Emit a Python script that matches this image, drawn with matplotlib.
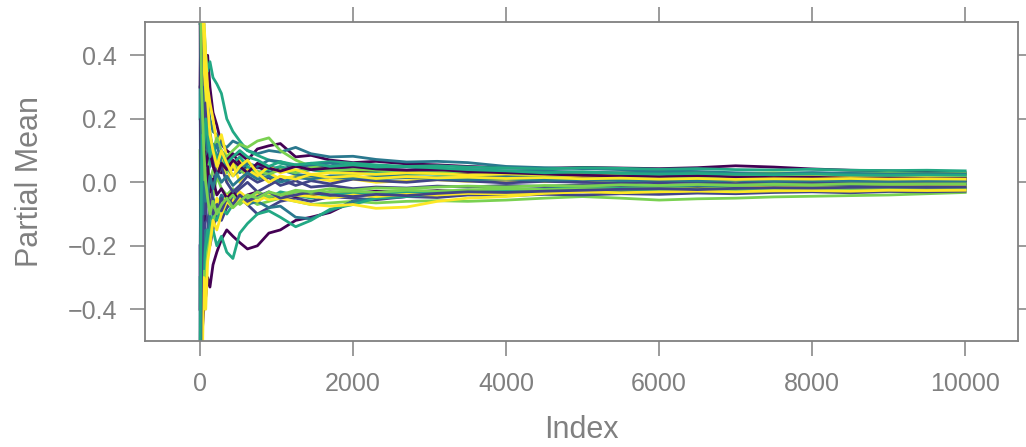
import numpy as np
import matplotlib
matplotlib.use("Agg")
import matplotlib.pyplot as plt

# Chỉ số tại các điểm đọc giá trị trung bình riêng phần
index_points = [1, 10, 20, 35, 50, 75, 100, 130, 170, 220, 280, 350, 430, 520, 620,
                750, 900, 1050, 1250, 1450, 1700, 2000, 2300, 2700, 3100, 3500, 4000,
                4500, 5000, 5500, 6000, 6500, 7000, 7500, 8000, 8500, 9000, 9500, 10000]

# Bảng màu viridis(6)
palette = ["#440154", "#414487", "#2A788E", "#22A884", "#7AD151", "#FDE725"]

# Các chuỗi trung bình riêng phần (tên theo màu: P, B, T, G, L, Y)
P1 = [0.95, 0.62, 0.45, 0.41, 0.33, 0.38, 0.40, 0.30, 0.22, 0.18, 0.12, 0.10, 0.085, 0.09, 0.07,
      0.105, 0.115, 0.122, 0.08, 0.085, 0.07, 0.062, 0.066, 0.058, 0.055, 0.05, 0.046,
      0.044, 0.047, 0.045, 0.043, 0.046, 0.052, 0.048, 0.042, 0.038, 0.036, 0.033, 0.030]
B1 = [0.8, 0.3, 0.05, 0.15, -0.1, -0.2, -0.15, -0.05, 0.0, 0.05, 0.03, 0.06, 0.04, 0.07, 0.06,
      0.045, 0.05, 0.04, 0.055, 0.05, 0.045, 0.04, 0.038, 0.035, 0.03, 0.032, 0.028,
      0.025, 0.028, 0.024, 0.022, 0.025, 0.02, 0.022, 0.019, 0.021, 0.018, 0.02, 0.018]
T1 = [1.1, 0.55, 0.3, 0.35, 0.28, 0.22, 0.25, 0.2, 0.16, 0.15, 0.12, 0.11, 0.13, 0.12, 0.1,
      0.09, 0.1, 0.095, 0.11, 0.09, 0.08, 0.082, 0.072, 0.064, 0.066, 0.062, 0.05,
      0.046, 0.043, 0.04, 0.036, 0.034, 0.03, 0.028, 0.03, 0.027, 0.024, 0.025, 0.022]
G1 = [0.5, 0.9, 0.6, 0.45, 0.5, 0.4, 0.35, 0.38, 0.33, 0.31, 0.28, 0.2, 0.16, 0.13, 0.1,
      0.085, 0.07, 0.06, 0.05, 0.06, 0.065, 0.06, 0.055, 0.05, 0.052, 0.048, 0.045,
      0.042, 0.046, 0.044, 0.041, 0.043, 0.04, 0.039, 0.041, 0.038, 0.037, 0.038, 0.036]
L1 = [-0.6, -0.2, 0.1, 0.05, -0.1, -0.05, 0.0, -0.08, -0.05, 0.02, -0.02, -0.04, -0.02, -0.06, -0.05,
      -0.07, -0.06, -0.05, -0.06, -0.07, -0.065, -0.06, -0.065, -0.06, -0.058, -0.06, -0.056,
      -0.05, -0.045, -0.05, -0.056, -0.052, -0.05, -0.046, -0.044, -0.042, -0.04, -0.036, -0.032]
Y1 = [2.0, 1.1, 0.8, 0.6, 0.52, 0.4, 0.3, 0.25, 0.2, 0.12, 0.15, 0.08, 0.05, 0.07, 0.04,
      0.02, 0.03, 0.01, 0.02, 0.015, 0.005, 0.01, 0.0, 0.005, 0.008, 0.003, 0.006,
      0.002, 0.004, 0.007, 0.003, 0.005, 0.002, 0.004, 0.006, 0.003, 0.005, 0.004, 0.004]

P2 = [-1.2, -0.75, -0.52, -0.45, -0.40, -0.36, -0.30, -0.33, -0.26, -0.22, -0.18, -0.15, -0.17, -0.19, -0.21,
      -0.20, -0.16, -0.15, -0.12, -0.11, -0.095, -0.06, -0.05, -0.045, -0.035, -0.03, -0.028,
      -0.022, -0.02, -0.018, -0.022, -0.02, -0.015, -0.012, -0.014, -0.012, -0.01, -0.011, -0.010]
B2 = [-0.9, -0.6, -0.2, -0.3, -0.15, -0.1, -0.12, -0.2, -0.15, -0.1, -0.12, -0.08, -0.06, -0.04, -0.07,
      -0.1, -0.08, -0.06, -0.05, -0.06, -0.045, -0.05, -0.055, -0.045, -0.048, -0.04, -0.042,
      -0.038, -0.04, -0.036, -0.038, -0.034, -0.036, -0.032, -0.03, -0.033, -0.029, -0.03, -0.028]
T2 = [-1.6, -0.7, -0.43, -0.3, -0.25, -0.15, -0.18, -0.1, -0.05, -0.08, -0.04, -0.06, -0.03, -0.05, -0.07,
      -0.06, -0.08, -0.075, -0.11, -0.115, -0.09, -0.06, -0.05, -0.04, -0.035, -0.03, -0.028,
      -0.022, -0.02, -0.018, -0.02, -0.017, -0.016, -0.018, -0.015, -0.016, -0.014, -0.015, -0.015]
G2 = [-1.0, -0.5, -0.3, -0.35, -0.25, -0.2, -0.15, -0.18, -0.15, -0.2, -0.17, -0.22, -0.24, -0.16, -0.13,
      -0.1, -0.09, -0.11, -0.14, -0.12, -0.085, -0.07, -0.05, -0.045, -0.035, -0.03, -0.025,
      -0.02, -0.018, -0.015, -0.012, -0.01, -0.013, -0.01, -0.009, -0.011, -0.008, -0.009, -0.008]
L2 = [0.7, 0.2, 0.4, 0.25, 0.3, 0.2, 0.12, 0.16, 0.1, 0.14, 0.1, 0.08, 0.1, 0.12, 0.11,
      0.13, 0.14, 0.1, 0.07, 0.05, 0.04, 0.03, 0.035, 0.025, 0.03, 0.022, 0.018,
      0.02, 0.016, 0.014, 0.017, 0.013, 0.015, 0.012, 0.013, 0.011, 0.012, 0.013, 0.012]
Y2 = [1.4, 0.9, 0.5, 0.3, 0.2, 0.1, 0.05, -0.05, -0.1, -0.05, -0.08, -0.04, -0.06, -0.03, -0.05,
      -0.06, -0.04, -0.05, -0.06, -0.07, -0.075, -0.07, -0.082, -0.078, -0.06, -0.05, -0.045,
      -0.035, -0.03, -0.025, -0.022, -0.02, -0.018, -0.015, -0.016, -0.013, -0.014, -0.012, -0.012]

P3 = [0.6, -0.3, 0.1, 0.25, 0.05, -0.05, 0.02, 0.08, 0.12, 0.06, 0.03, 0.07, 0.09, 0.06, 0.04,
      0.05, 0.03, 0.045, 0.035, 0.04, 0.033, 0.03, 0.034, 0.028, 0.032, 0.025, 0.02,
      0.022, 0.015, 0.018, 0.012, 0.008, 0.01, 0.006, 0.009, 0.007, 0.005, 0.006, 0.005]
B3 = [-0.5, 0.4, 0.25, 0.1, 0.2, 0.12, 0.05, 0.0, -0.06, -0.1, -0.05, -0.08, -0.04, -0.02, 0.0,
      -0.03, -0.01, 0.01, -0.01, 0.005, -0.005, 0.01, 0.005, 0.0, 0.008, 0.004, -0.002,
      0.003, 0.0, -0.003, 0.002, 0.0, -0.004, 0.001, 0.002, -0.002, 0.0, 0.001, 0.000]
T3 = [0.3, -0.2, 0.2, 0.3, 0.2, 0.15, 0.1, 0.05, 0.12, 0.08, 0.1, 0.065, 0.05, 0.03, 0.045,
      0.02, 0.03, 0.04, 0.025, 0.02, 0.015, 0.012, 0.02, 0.018, 0.015, 0.012, 0.016,
      0.013, 0.01, 0.014, 0.011, 0.012, 0.009, 0.011, 0.012, 0.01, 0.009, 0.011, 0.010]
G3 = [0.2, 0.4, 0.05, -0.1, 0.0, 0.08, 0.02, 0.06, 0.1, 0.05, 0.08, 0.04, 0.06, 0.08, 0.05,
      0.03, 0.04, 0.05, 0.035, 0.04, 0.03, 0.025, 0.03, 0.028, 0.025, 0.022, 0.026,
      0.02, 0.022, 0.018, 0.02, 0.016, 0.018, 0.017, 0.014, 0.016, 0.015, 0.014, 0.015]
L3 = [0.1, -0.4, -0.2, -0.1, 0.05, 0.1, 0.05, 0.0, 0.04, 0.02, 0.05, 0.03, 0.06, 0.04, 0.02,
      0.035, 0.025, 0.04, 0.03, 0.045, 0.035, 0.04, 0.038, 0.032, 0.03, 0.035, 0.032,
      0.03, 0.028, 0.03, 0.032, 0.029, 0.027, 0.03, 0.028, 0.026, 0.029, 0.027, 0.028]
Y3 = [1.8, 0.5, 0.7, 0.5, 0.35, 0.3, 0.2, 0.15, 0.08, 0.03, 0.07, 0.0, 0.06, 0.0, 0.04,
      0.02, 0.05, 0.03, 0.04, 0.025, 0.03, 0.028, 0.025, 0.03, 0.027, 0.023, 0.026,
      0.024, 0.02, 0.022, 0.025, 0.021, 0.019, 0.022, 0.02, 0.018, 0.021, 0.019, 0.020]

P4 = [-0.4, 0.2, -0.1, -0.05, -0.12, -0.08, 0.05, -0.03, 0.01, -0.04, -0.02, -0.05, -0.03, -0.06, -0.04,
      -0.03, -0.05, -0.035, -0.045, -0.04, -0.03, -0.035, -0.028, -0.032, -0.026, -0.03, -0.025,
      -0.028, -0.022, -0.026, -0.024, -0.02, -0.022, -0.019, -0.021, -0.018, -0.02, -0.021, -0.020]
B4 = [1.5, 0.7, 0.35, 0.28, 0.15, 0.25, 0.18, 0.12, 0.08, 0.02, 0.05, 0.0, -0.03, -0.01, 0.02,
      0.0, 0.015, -0.01, 0.005, -0.015, -0.01, -0.02, -0.015, -0.018, -0.012, -0.015, -0.01,
      -0.013, -0.008, -0.01, -0.006, -0.009, -0.007, -0.004, -0.006, -0.008, -0.005, -0.006, -0.005]
T4 = [-0.8, 0.1, 0.35, 0.2, 0.1, 0.05, 0.1, 0.15, 0.09, 0.12, 0.06, 0.05, 0.02, 0.04, 0.06,
      0.05, 0.07, 0.065, 0.05, 0.055, 0.06, 0.05, 0.045, 0.048, 0.042, 0.04, 0.036,
      0.035, 0.032, 0.03, 0.033, 0.03, 0.028, 0.027, 0.03, 0.028, 0.026, 0.027, 0.026]
G4 = [-0.3, -0.8, -0.45, -0.3, -0.35, -0.25, -0.2, -0.15, -0.1, -0.12, -0.08, -0.1, -0.07, -0.05, -0.06,
      -0.04, -0.05, -0.03, -0.04, -0.05, -0.04, -0.035, -0.04, -0.03, -0.034, -0.03, -0.028,
      -0.03, -0.027, -0.025, -0.026, -0.024, -0.026, -0.023, -0.022, -0.024, -0.023, -0.021, -0.022]
L4 = [-1.3, -0.9, -0.5, -0.35, -0.28, -0.3, -0.22, -0.18, -0.12, -0.08, -0.1, -0.06, -0.04, -0.07, -0.05,
      -0.03, -0.045, -0.04, -0.03, -0.035, -0.03, -0.028, -0.032, -0.025, -0.028, -0.024, -0.02,
      -0.023, -0.02, -0.022, -0.019, -0.021, -0.018, -0.02, -0.017, -0.019, -0.018, -0.019, -0.018]
Y4 = [-1.5, -0.6, -0.35, -0.5, -0.3, -0.4, -0.25, -0.2, -0.12, -0.15, -0.1, -0.06, -0.08, -0.05, -0.07,
      -0.04, -0.055, -0.05, -0.04, -0.045, -0.05, -0.04, -0.045, -0.038, -0.04, -0.035, -0.037,
      -0.032, -0.03, -0.033, -0.03, -0.028, -0.03, -0.027, -0.026, -0.028, -0.025, -0.026, -0.025]

P5 = [0.3, 0.5, 0.2, 0.1, 0.15, 0.05, 0.08, 0.1, 0.05, 0.02, 0.06, 0.04, 0.07, 0.05, 0.03,
      0.06, 0.045, 0.035, 0.05, 0.04, 0.045, 0.05, 0.042, 0.038, 0.04, 0.034, 0.03,
      0.026, 0.022, 0.02, 0.018, 0.021, 0.017, 0.015, 0.016, 0.013, 0.014, 0.012, 0.012]
B5 = [-0.2, -0.5, -0.3, -0.15, -0.05, -0.1, -0.02, -0.06, -0.1, -0.07, -0.09, -0.05, -0.07, -0.04, -0.06,
      -0.045, -0.03, -0.05, -0.04, -0.03, -0.04, -0.045, -0.038, -0.042, -0.035, -0.03, -0.032,
      -0.028, -0.025, -0.022, -0.02, -0.023, -0.019, -0.017, -0.018, -0.016, -0.015, -0.016, -0.015]
T5 = [0.9, 0.4, 0.1, -0.1, 0.0, -0.06, -0.04, 0.02, -0.02, 0.03, 0.0, 0.02, -0.01, 0.01, 0.03,
      0.01, 0.02, 0.0, 0.015, 0.01, 0.02, 0.018, 0.01, 0.015, 0.012, 0.008, 0.01,
      0.006, 0.009, 0.005, 0.007, 0.004, 0.006, 0.003, 0.005, 0.004, 0.003, 0.005, 0.004]
G5 = [-0.7, -0.2, 0.0, 0.15, 0.1, 0.2, 0.15, 0.08, 0.12, 0.07, 0.09, 0.06, 0.08, 0.1, 0.08,
      0.07, 0.05, 0.065, 0.055, 0.06, 0.05, 0.055, 0.048, 0.05, 0.045, 0.04, 0.036,
      0.03, 0.033, 0.028, 0.026, 0.028, 0.025, 0.024, 0.026, 0.023, 0.022, 0.023, 0.022]
L5 = [1.2, 0.6, 0.3, 0.2, 0.1, 0.0, -0.05, -0.1, -0.06, -0.1, -0.07, -0.05, -0.08, -0.06, -0.04,
      -0.05, -0.03, -0.04, -0.025, -0.03, -0.02, -0.025, -0.018, -0.02, -0.015, -0.012, -0.015,
      -0.01, -0.012, -0.008, -0.01, -0.007, -0.009, -0.006, -0.008, -0.005, -0.006, -0.005, -0.005]
Y5 = [0.9, 1.2, 0.7, 0.55, 0.45, 0.3, 0.25, 0.15, 0.1, 0.05, 0.1, 0.06, 0.02, 0.05, 0.07,
      0.03, 0.0, 0.02, 0.01, 0.025, 0.015, 0.02, 0.012, 0.018, 0.014, 0.016, 0.012,
      0.015, 0.011, 0.013, 0.01, 0.012, 0.009, 0.011, 0.01, 0.012, 0.01, 0.011, 0.010]

# Thứ tự vẽ: màu lặp lại theo bảng viridis
series = [P1, B1, T1, G1, L1, Y1,
          P2, B2, T2, G2, L2, Y2,
          P3, B3, T3, G3, L3, Y3,
          P4, B4, T4, G4, L4, Y4,
          P5, B5, T5, G5, L5, Y5]

grey = "#808080"
plt.rcParams["font.family"] = ["Liberation Sans", "DejaVu Sans"]

fig = plt.figure(figsize=(10.26, 4.47), dpi=100)
ax = fig.add_axes([0.1413, 0.2371, 0.8509, 0.7137])

for k, s in enumerate(series):
    ax.plot(index_points, s, color=palette[k % len(palette)], lw=2.0,
            solid_joinstyle="round")

ax.set_xlim(1 - 720, 10000 + 690)
ax.set_ylim(-0.5, 0.505)
ax.set_xticks([0, 2000, 4000, 6000, 8000, 10000])
ax.set_yticks([-0.4, -0.2, 0.0, 0.2, 0.4])
ax.set_yticklabels(["\u22120.4", "\u22120.2", "0.0", "0.2", "0.4"])

# Khung và vạch chia kiểu lattice: vạch ra ngoài ở cả bốn cạnh
for sp in ax.spines.values():
    sp.set_color(grey)
    sp.set_linewidth(1.3)
ax.tick_params(axis="both", direction="out", length=11, width=1.1, color=grey,
               labelcolor=grey, labelsize=18, top=True, right=True)
ax.tick_params(axis="x", pad=11)
ax.tick_params(axis="y", pad=9)

ax.set_xlabel("Index", fontsize=22, color=grey, labelpad=14)
ax.set_ylabel("Partial Mean", fontsize=22, color=grey, labelpad=16)

fig.savefig("out.png", dpi=100)
